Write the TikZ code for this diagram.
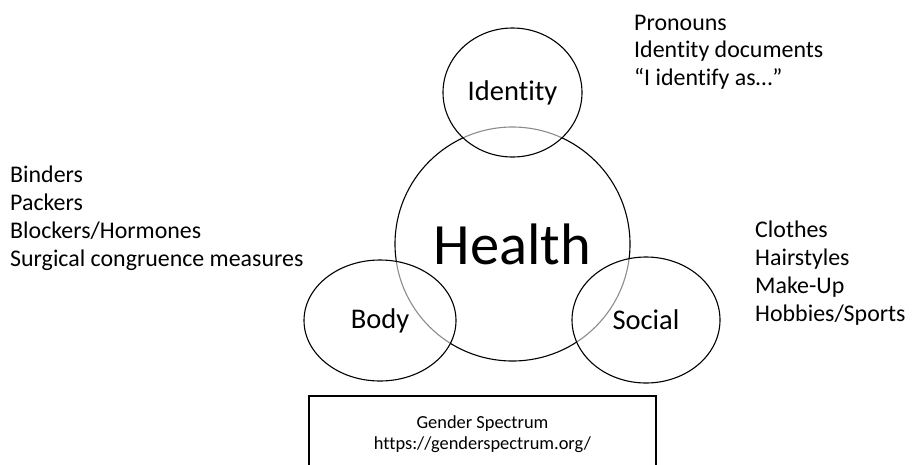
\documentclass[tikz,border=0pt]{standalone}
\usepackage{fontspec}
\setmainfont{Carlito}[Ligatures=NoCommon]
\usetikzlibrary{shapes.geometric}
\begin{document}
\begin{tikzpicture}[x=1pt,y=-1pt,
  ring/.style={draw=black,line width=1.1pt,ellipse,inner sep=0pt},
  overlay ring/.style={ring,fill=white,fill opacity=0.55,text opacity=1},
  listtext/.style={anchor=base west,inner sep=0pt,font=\fontsize{23.9}{28}\selectfont},
  small/.style={font=\fontsize{28.5}{34}\selectfont}]
\useasboundingbox (0,0) rectangle (923,464);
% central circle
\node[ring,minimum width=235pt,minimum height=234pt,font=\fontsize{58.5}{70}\selectfont] (health) at (512.5,244) {Health};
% the three satellite circles
\node[overlay ring,small,minimum width=139pt,minimum height=129pt] (identity) at (512.5,92.5) {Identity};
\node[overlay ring,small,minimum width=152pt,minimum height=121pt] (body) at (380,320.5) {Body};
\node[overlay ring,small,minimum width=148pt,minimum height=126pt] (social) at (646,320) {Social};
% lists of examples
\foreach \t [count=\i] in {Binders,Packers,Blockers/Hormones,Surgical congruence measures}
  \node[listtext] (bodylist-\i) at (10,182+28.2*\i-28.2) {\t};
\foreach \t [count=\i] in {Pronouns,Identity documents,“I identify as…”}
  \node[listtext] (idlist-\i) at (634,30+27.6*\i-27.6) {\t};
\foreach \t [count=\i] in {Clothes,Hairstyles,Make-Up,Hobbies/Sports}
  \node[listtext] (sociallist-\i) at (755,237+28.3*\i-28.3) {\t};
% source box
\node[draw=black,line width=1.1pt,minimum width=347pt,minimum height=76pt,align=center,
      font=\fontsize{18.4}{20.5}\selectfont] (source) at (482.5,434)
  {Gender Spectrum\\https://genderspectrum.org/};
\end{tikzpicture}
\end{document}
